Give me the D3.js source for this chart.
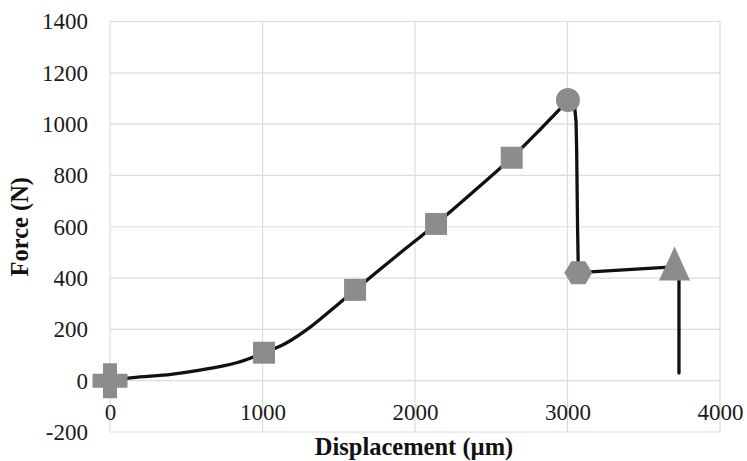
<!DOCTYPE html>
<html>
<head>
<meta charset="utf-8">
<script src="https://cdn.jsdelivr.net/npm/d3@7"></script>
<style>
  html, body { margin: 0; padding: 0; background: #fff; }
  svg { display: block; }
</style>
</head>
<body>
<svg id="chart" width="747" height="461"></svg>
<script>
// Loading branch of the force–displacement trace (displacement in µm, force in N), smoothed
const riseDisp  = [0, 150, 400, 600, 830, 1010, 1150, 1311, 1460, 1607, 1870, 2138, 2390, 2634, 2830, 2960, 3003];
const riseForce = [0, 12, 25, 42, 70, 109, 145, 208, 280, 354, 482, 611, 740, 869, 985, 1065, 1094];

// Failure branch: sudden drop, plateau, final drop
const dropDisp  = [3003, 3030, 3048, 3056, 3060, 3066, 3071, 3640, 3702, 3731, 3731];
const dropForce = [1094, 1085, 1060, 1010, 900, 600, 421, 442, 445, 420, 30];

// Key points along the trace and the marker shape used for each
const markerDisp   = [0, 1010, 1607, 2138, 2634, 3003, 3071, 3702];
const markerForce  = [0, 109, 354, 611, 869, 1094, 421, 445];
const markerShapes = ["plus", "square", "square", "square", "square", "circle", "hexagon", "triangle"];

// Axis ticks
const xTicks = [0, 1000, 2000, 3000, 4000];
const yTicks = [-200, 0, 200, 400, 600, 800, 1000, 1200, 1400];

const svg = d3.select("#chart");
const x = d3.scaleLinear().domain([0, 4000]).range([110, 720]);
const y = d3.scaleLinear().domain([-200, 1400]).range([432, 21.5]);

const gridColor = "#dcdcdc";
const font = "'Liberation Serif', 'Times New Roman', serif";
const fmt = d => String(d);

// Gridlines
svg.append("g").selectAll("line").data(yTicks).join("line")
  .attr("x1", x(0)).attr("x2", x(4000))
  .attr("y1", d => y(d)).attr("y2", d => y(d))
  .attr("stroke", gridColor).attr("stroke-width", 1.2);
svg.append("g").selectAll("line").data(xTicks).join("line")
  .attr("x1", d => x(d)).attr("x2", d => x(d))
  .attr("y1", y(1400)).attr("y2", y(-200))
  .attr("stroke", gridColor).attr("stroke-width", 1.2);

// Tick labels (y on the left, x just below the zero line)
const yAxis = d3.axisLeft(y).tickValues(yTicks).tickFormat(fmt).tickSize(0).tickPadding(22);
svg.append("g").attr("transform", `translate(${x(0)},0)`).call(yAxis)
  .call(g => g.select(".domain").remove())
  .call(g => g.selectAll("text").attr("font-family", font).attr("font-size", 23).attr("fill", "#1a1a1a"));

const xAxis = d3.axisBottom(x).tickValues(xTicks).tickFormat(fmt).tickSize(0).tickPadding(23);
svg.append("g").attr("transform", `translate(0,${y(0)})`).call(xAxis)
  .call(g => g.select(".domain").remove())
  .call(g => g.selectAll("text").attr("font-family", font).attr("font-size", 23).attr("fill", "#1a1a1a"));

// Axis titles
svg.append("text")
  .attr("x", 414).attr("y", 455)
  .attr("text-anchor", "middle")
  .attr("font-family", font).attr("font-weight", "bold").attr("font-size", 24.5).attr("fill", "#111")
  .text("Displacement (µm)");
svg.append("text")
  .attr("transform", `translate(28,${(y(1400) + y(-200)) / 2}) rotate(-90)`)
  .attr("text-anchor", "middle")
  .attr("font-family", font).attr("font-weight", "bold").attr("font-size", 24.5).attr("fill", "#111")
  .text("Force (N)");

// Trace
const traceStyle = p => p.attr("fill", "none").attr("stroke", "#111").attr("stroke-width", 3.3)
  .attr("stroke-linejoin", "round").attr("stroke-linecap", "round");
const smooth = d3.line().x(d => x(d[0])).y(d => y(d[1])).curve(d3.curveCatmullRom.alpha(0.5));
const straight = d3.line().x(d => x(d[0])).y(d => y(d[1]));
svg.append("path").datum(riseDisp.map((d, i) => [d, riseForce[i]])).attr("d", smooth).call(traceStyle);
svg.append("path").datum(dropDisp.map((d, i) => [d, dropForce[i]])).attr("d", straight).call(traceStyle);

// Markers
const markerColor = "#8c8c8c";
function shapePath(kind) {
  switch (kind) {
    case "plus": {
      const a = 17.5, t = 7;
      return `M${-t},${-a}H${t}V${-t}H${a}V${t}H${t}V${a}H${-t}V${t}H${-a}V${-t}H${-t}Z`;
    }
    case "square": return "M-11,-11H11V11H-11Z";
    case "hexagon": {
      const r = 14;
      return d3.range(6).map(i => {
        const ang = Math.PI / 3 * i;
        return (i ? "L" : "M") + (r * Math.cos(ang)).toFixed(2) + "," + (r * Math.sin(ang) * 0.95).toFixed(2);
      }).join("") + "Z";
    }
    case "triangle": return "M0,-20L15.5,14L-15.5,14Z";
    default: return null;
  }
}
const mk = svg.append("g").selectAll("g")
  .data(markerDisp.map((d, i) => ({d, f: markerForce[i], s: markerShapes[i]})))
  .join("g")
  .attr("transform", d => `translate(${x(d.d)},${y(d.f)})`);
mk.filter(d => d.s === "circle").append("circle").attr("r", 12).attr("fill", markerColor);
mk.filter(d => d.s !== "circle").append("path").attr("d", d => shapePath(d.s)).attr("fill", markerColor);
</script>
</body>
</html>
